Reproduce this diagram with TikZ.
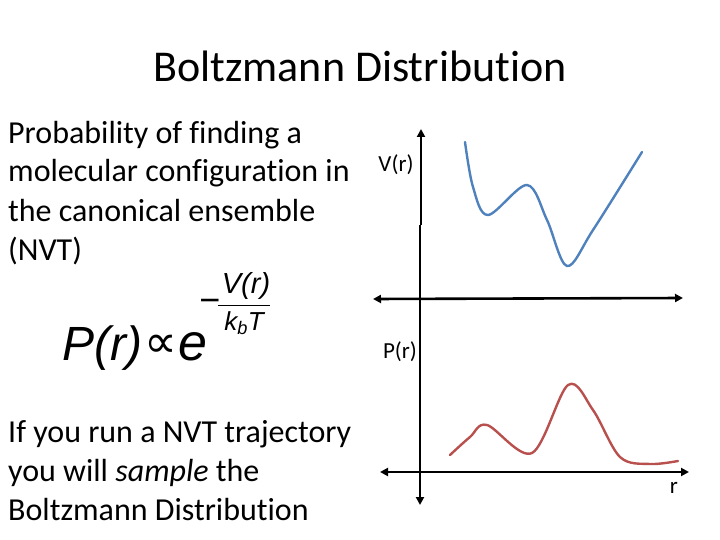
\documentclass[tikz,border=0pt]{standalone}
\usepackage{fontspec}
\setmainfont{Carlito}[Ligatures=NoCommon]
\newfontfamily\formfont{Liberation Sans}
\newfontfamily\symfont{DejaVu Sans}
\usetikzlibrary{arrows.meta}
\definecolor{curveBlue}{HTML}{4F81BD}
\definecolor{curveRed}{HTML}{B8504D}

\begin{document}
\begin{tikzpicture}[x=1pt, y=-1pt,
    axis/.style={line width=2.6pt, black, {Triangle[length=8pt,width=8pt]}-{Triangle[length=8pt,width=8pt]}},
    uaxis/.style={line width=2.6pt, black, -{Triangle[length=8pt,width=8pt]}},
    curve/.style={line width=2.4pt, line cap=round, line join=round},
    body/.style={anchor=base west, align=left, inner sep=0pt, font=\fontsize{32}{39}\selectfont},
    lbl/.style={inner sep=0pt, font=\fontsize{23}{26}\selectfont},
    expart/.style={inner sep=0pt, font=\formfont\itshape\fontsize{29}{32}\selectfont}
  ]
  \useasboundingbox (0,0) rectangle (720,540);

  % title
  \node[inner sep=0pt, anchor=base, font=\fontsize{44}{52}\selectfont] (title) at (360,82) {Boltzmann Distribution};

  % text blocks (anchored at the last line)
  \node[body] (intro) at (8,260) {Probability of finding a\\molecular configuration in\\the canonical ensemble\\(NVT)};
  \node[body] (outro) at (8,520) {If you run a NVT trajectory\\you will \textit{sample} the\\Boltzmann Distribution};

  % formula
  \node[inner sep=0pt, anchor=base west, font=\formfont\fontsize{48}{52}\selectfont] (boltz) at (62,360)
    {\itshape P(r)\kern2pt\raisebox{3pt}{\upshape\symfont\fontsize{46}{46}\selectfont ∝}\kern1pt{\fontsize{52}{52}\selectfont e}};
  \node[inner sep=0pt, font=\formfont\fontsize{36}{38}\selectfont] (minus) at (210,306) {−};
  \node[expart] (num) at (246,286) {V(r)};
  \node[expart, font=\formfont\itshape\fontsize{26}{30}\selectfont] (den) at (244,323) {k\textsubscript{b}T};
  \coordinate (barL) at (218,305);
  \coordinate (barR) at (270,305);
  \draw[line width=1pt] (barL) -- (barR);

  % axes
  \coordinate (vtop) at (421,129);
  \coordinate (vjog) at (421,225);
  \coordinate (vjog2) at (420,225);
  \coordinate (vbot) at (420,505);
  \coordinate (uleft) at (373,299);
  \coordinate (uright) at (683,298);
  \coordinate (lleft) at (380,472);
  \coordinate (lright) at (689,472);
  \draw[uaxis] (vjog) -- (vtop);
  \draw[uaxis] (vjog2) -- (vbot);
  \draw[axis] (uleft) -- (uright);
  \draw[axis] (lleft) -- (lright);

  % axis labels
  \node[lbl] (vlbl) at (396,165) {V(r)};
  \node[lbl] (plbl) at (400,352) {P(r)};
  \node[lbl] (rlbl) at (674,488) {r};

  % potential
  \draw[curve, curveBlue] plot[smooth, tension=0.55] coordinates
    {(465,142) (473,187) (488,215) (527,185) (547,220) (567,266) (593,230) (642,152)};

  % probability
  \draw[curve, curveRed] plot[smooth, tension=0.55] coordinates
    {(450,455) (470,437) (487,425) (532,453) (568,385) (593,410) (620,457) (650,464) (678,461)};
\end{tikzpicture}
\end{document}
